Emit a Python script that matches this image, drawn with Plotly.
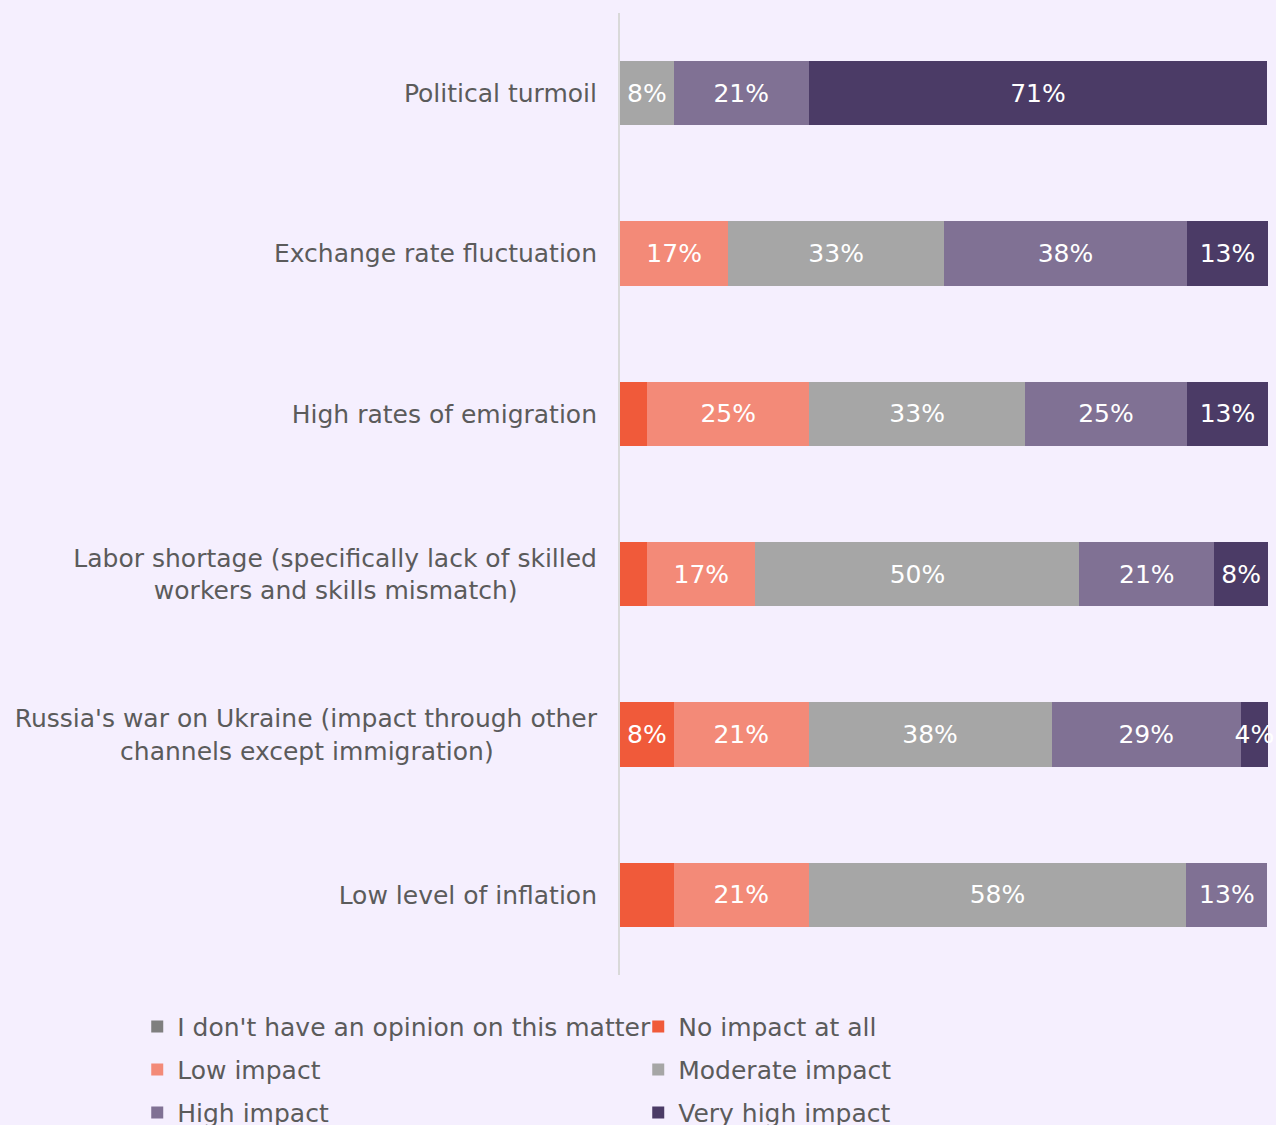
import plotly.graph_objects as go

NB = "\u00a0"

categories = [
    "Political turmoil",
    "Exchange rate fluctuation",
    "High rates of emigration",
    "Labor shortage (specifically lack of skilled<br>workers and skills mismatch)" + NB * 10,
    "Russia's war on Ukraine (impact through other<br>channels except immigration)" + NB * 13,
    "Low level of inflation",
]

series_names = [
    "I don't have an opinion on this matter",
    "No impact at all",
    "Low impact",
    "Moderate impact",
    "High impact",
    "Very high impact",
]

no_opinion = [0, 0, 0, 0, 0, 0]
no_impact = [0, 0, 4.2, 4.2, 8.3, 8.3]
low_impact = [0, 16.7, 25.0, 16.7, 20.8, 20.8]
moderate_impact = [8.3, 33.3, 33.3, 50.0, 37.5, 58.3]
high_impact = [20.8, 37.5, 25.0, 20.8, 29.2, 12.5]
very_high_impact = [70.8, 12.5, 12.5, 8.3, 4.2, 0]

# which bar segments carry a visible percentage label
no_opinion_show = [False] * 6
no_impact_show = [False, False, False, False, True, False]
low_show = [False, True, True, True, True, True]
moderate_show = [True, True, True, True, True, True]
high_show = [True, True, True, True, True, True]
very_high_show = [True, True, True, True, True, False]

colors = ["#7f7f7f", "#f05a3a", "#f38a78", "#a6a6a6", "#807194", "#4b3b66"]

all_values = [no_opinion, no_impact, low_impact, moderate_impact, high_impact, very_high_impact]
all_show = [no_opinion_show, no_impact_show, low_show, moderate_show, high_show, very_high_show]

# legend rows: two entries per row
legend_ids = ["legend", "legend", "legend2", "legend2", "legend3", "legend3"]

FONT = "DejaVu Sans"
TXT = "#5b5b5b"
FS = 25
BG = "#f5effe"
W = 1276
H = 1125
PLOT_H = 962


def label(v, s):
    return f"{int(v + 0.5)}%" if s else ""


fig = go.Figure()
for name, vals, show, col, lg in zip(series_names, all_values, all_show, colors, legend_ids):
    fig.add_trace(go.Bar(
        name=name,
        y=categories,
        x=vals,
        orientation="h",
        marker=dict(color=col, line=dict(width=0)),
        text=[label(v, s) for v, s in zip(vals, show)],
        textposition="inside",
        insidetextanchor="middle",
        textangle=0,
        textfont=dict(color="white", size=FS, family=FONT),
        cliponaxis=False,
        legend=lg,
    ))

legend_common = dict(
    orientation="h",
    x=-0.745,
    xanchor="left",
    yanchor="top",
    entrywidth=456,
    entrywidthmode="pixels",
    font=dict(size=FS, color=TXT, family=FONT),
    traceorder="normal",
    bgcolor="rgba(0,0,0,0)",
)

fig.update_layout(
    barmode="stack",
    bargap=0.6,
    width=W,
    height=H,
    paper_bgcolor=BG,
    plot_bgcolor=BG,
    font=dict(family=FONT, size=FS, color=TXT),
    margin=dict(l=620, r=8, t=13, b=150, autoexpand=False),
    uniformtext=dict(minsize=FS, mode="show"),
    xaxis=dict(range=[0, 100], visible=False, showgrid=False, zeroline=False),
    yaxis=dict(
        categoryorder="array",
        categoryarray=categories,
        autorange="reversed",
        showline=True,
        linecolor="#d9d9d9",
        linewidth=2,
        showgrid=False,
        zeroline=False,
        ticks="",
        ticklabelstandoff=16,
        tickfont=dict(size=FS, color=TXT, family=FONT),
    ),
    legend=dict(legend_common, y=-0.03),
    legend2=dict(legend_common, y=-0.03 - 43 / PLOT_H),
    legend3=dict(legend_common, y=-0.03 - 86 / PLOT_H),
)

fig.write_html(
    "out.html",
    config={"displayModeBar": False},
    post_script="document.body.style.margin='0';",
)
